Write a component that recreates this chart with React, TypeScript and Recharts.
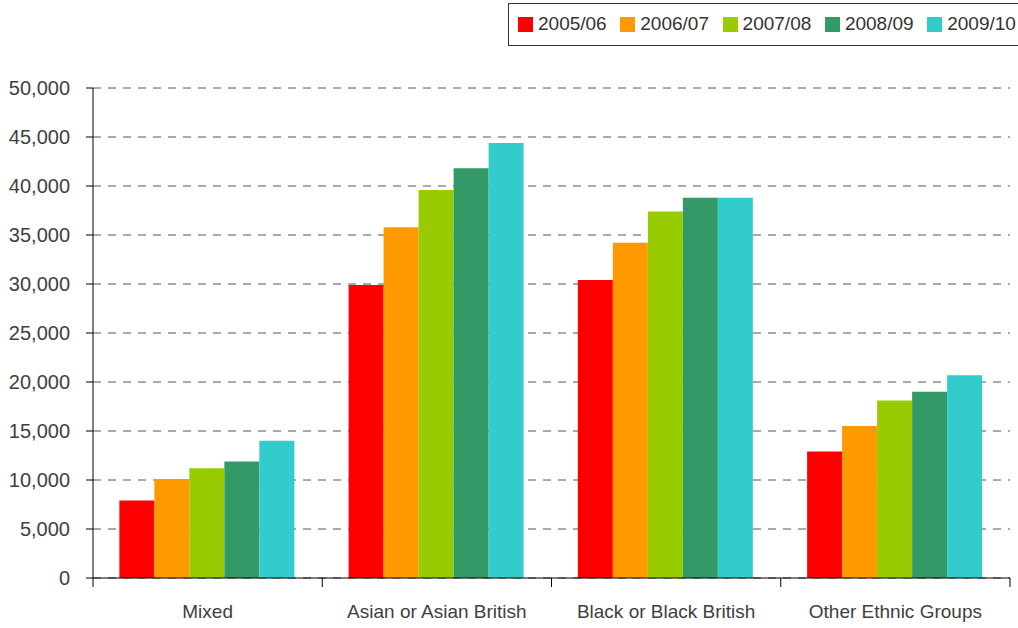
import React from 'react';
import { BarChart, Bar, XAxis, YAxis, CartesianGrid } from 'recharts';

const categories = ['Mixed', 'Asian or Asian British', 'Black or Black British', 'Other Ethnic Groups'];
const seriesNames = ['2005/06', '2006/07', '2007/08', '2008/09', '2009/10'];
const values0506 = [7900, 29900, 30400, 12900];
const values0607 = [10100, 35800, 34200, 15500];
const values0708 = [11200, 39600, 37400, 18100];
const values0809 = [11900, 41800, 38800, 19000];
const values0910 = [14000, 44400, 38800, 20700];
const yTicks = [0, 5000, 10000, 15000, 20000, 25000, 30000, 35000, 40000, 45000, 50000];

const colors = ['#ff0000', '#ff9900', '#99cc00', '#339966', '#33cccc'];
const seriesValues = [values0506, values0607, values0708, values0809, values0910];

const data = categories.map((name, i) => {
  const row: Record<string, string | number> = { name };
  seriesNames.forEach((s, k) => {
    row[s] = seriesValues[k][i];
  });
  return row;
});

const W = 1018;
const H = 628;
const X_AXIS_H = 50;
const M = { top: 88, right: 8, bottom: 0, left: 0 };
const Y_AXIS_W = 93;
const BAND = (W - M.right - M.left - Y_AXIS_W) / categories.length;
const FONT = "'Liberation Sans', Arial, sans-serif";
const TEXT = '#404040';

const CategoryTick = (props: any) => {
  const { x, payload, index } = props;
  const axisY = H - M.bottom - X_AXIS_H;
  const left = x - BAND / 2;
  const right = x + BAND / 2;
  return (
    <g>
      <line x1={left} y1={axisY} x2={left} y2={axisY + 9} stroke="#000" strokeWidth={1} />
      {index === categories.length - 1 && (
        <line x1={right} y1={axisY} x2={right} y2={axisY + 9} stroke="#000" strokeWidth={1} />
      )}
      <text x={x} y={axisY + 40} textAnchor="middle" fill={TEXT} fontSize={19} fontFamily={FONT}>
        {payload.value}
      </text>
    </g>
  );
};

const ValueTick = (props: any) => {
  const { x, y, payload } = props;
  return (
    <text x={x - 14} y={y + 7} textAnchor="end" fill={TEXT} fontSize={20} fontFamily={FONT}>
      {payload.value.toLocaleString('en-US')}
    </text>
  );
};

const LegendBox = () => (
  <div
    style={{
      position: 'absolute',
      left: 508,
      top: 3,
      width: 540,
      height: 43,
      border: '1.5px solid #333',
      background: '#fff',
      boxSizing: 'border-box',
      fontFamily: FONT,
      fontSize: 19,
      color: '#333',
    }}
  >
    {seriesNames.map((s, i) => (
      <div
        key={s}
        style={{ position: 'absolute', left: 9 + i * 102.3, top: 0, height: 40, display: 'flex', alignItems: 'center' }}
      >
        <span style={{ display: 'inline-block', width: 15, height: 15, background: colors[i], marginRight: 5 }} />
        <span>{s}</span>
      </div>
    ))}
  </div>
);

export default function App() {
  return (
    <div style={{ position: 'absolute', left: 0, top: 0, width: W, height: H, overflow: 'hidden', background: '#fff' }}>
      <BarChart width={W} height={H} data={data} margin={M} barCategoryGap="11.5%" barGap={0}>
        <CartesianGrid vertical={false} stroke="#555" strokeDasharray="8 7" />
        <XAxis
          dataKey="name"
          axisLine={{ stroke: '#000', strokeWidth: 1 }}
          tickLine={false}
          tick={<CategoryTick />}
          interval={0}
          height={X_AXIS_H}
        />
        <YAxis
          width={Y_AXIS_W}
          domain={[0, 50000]}
          ticks={yTicks}
          interval={0}
          axisLine={{ stroke: '#000', strokeWidth: 1 }}
          tickLine={{ stroke: '#000' }}
          tickSize={7}
          tick={<ValueTick />}
        />
        {seriesNames.map((s, i) => (
          <Bar key={s} dataKey={s} fill={colors[i]} isAnimationActive={false} />
        ))}
      </BarChart>
      <LegendBox />
    </div>
  );
}
